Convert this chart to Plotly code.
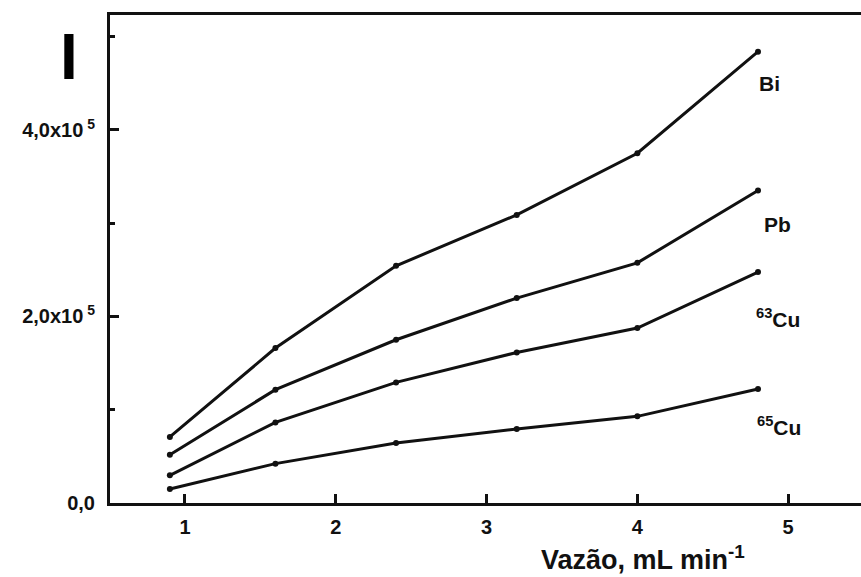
import plotly.graph_objects as go

# Data
flow = [0.9, 1.6, 2.4, 3.2, 4.0, 4.8]
bi = [0.708e5, 1.661e5, 2.543e5, 3.089e5, 3.750e5, 4.839e5]
pb = [0.518e5, 1.215e5, 1.750e5, 2.197e5, 2.575e5, 3.350e5]
cu63 = [0.297e5, 0.864e5, 1.293e5, 1.614e5, 1.876e5, 2.476e5]
cu65 = [0.151e5, 0.422e5, 0.644e5, 0.794e5, 0.929e5, 1.222e5]

series_names = ["Bi", "Pb", "<sup>63</sup>Cu", "<sup>65</sup>Cu"]
series_values = [bi, pb, cu63, cu65]
label_x = [4.876, 4.932, 4.932, 4.942]
label_y = [4.503e5, 2.982e5, 1.986e5, 0.829e5]

y_tickvals = [0, 2e5, 4e5]
y_ticktext = ["0,0", "2,0x10<sup> 5</sup>", "4,0x10<sup> 5</sup>"]
x_tickvals = [1, 2, 3, 4, 5]

FONT = "Liberation Sans, Arial, sans-serif"
INK = "#111111"

fig = go.Figure()
for name, vals in zip(series_names, series_values):
    fig.add_trace(go.Scatter(
        x=flow, y=vals, mode="lines+markers", name=name,
        line=dict(color=INK, width=3),
        marker=dict(color=INK, size=6, symbol="circle"),
        showlegend=False,
    ))

for name, lx, ly in zip(series_names, label_x, label_y):
    fig.add_annotation(x=lx, y=ly, xref="x", yref="y", text="<b>%s</b>" % name,
                       showarrow=False, font=dict(family=FONT, size=21, color=INK),
                       xanchor="center", yanchor="middle")

# Axis title and the "I" label
fig.add_annotation(x=0.71, y=-0.112, xref="paper", yref="paper",
                   text="<b>Vazão, mL min<sup>-1</sup></b>", showarrow=False,
                   font=dict(family=FONT, size=27, color=INK),
                   xanchor="center", yanchor="middle")
fig.add_annotation(x=-0.054, y=0.914, xref="paper", yref="paper",
                   text="<b>I</b>", showarrow=False,
                   font=dict(family=FONT, size=64, color="#000000"),
                   xanchor="center", yanchor="middle")

fig.update_xaxes(
    range=[0.503, 5.483], tickvals=x_tickvals, ticktext=[f"<b>{v}</b>" for v in x_tickvals],
    ticks="inside", ticklen=9, tickwidth=2.5, tickcolor=INK,
    showline=True, linewidth=3, linecolor=INK, mirror=True,
    showgrid=False, zeroline=False,
    tickfont=dict(family=FONT, size=20, color=INK),
    ticklabelstandoff=4,
)
fig.update_yaxes(
    range=[0, 5.232e5], tickvals=y_tickvals, ticktext=[f"<b>{t}</b>" for t in y_ticktext],
    ticks="inside", ticklen=9, tickwidth=2.5, tickcolor=INK,
    minor=dict(tickvals=[1e5, 3e5, 5e5], ticks="inside", ticklen=5, tickwidth=2.5, tickcolor=INK),
    showline=True, linewidth=3, linecolor=INK,
    showgrid=False, zeroline=False,
    tickfont=dict(family=FONT, size=20, color=INK),
    ticklabelstandoff=8,
)

fig.update_layout(
    width=861, height=577,
    margin=dict(l=110, r=0, t=15, b=74),
    paper_bgcolor="white", plot_bgcolor="white",
)

fig.write_html("out.html")
